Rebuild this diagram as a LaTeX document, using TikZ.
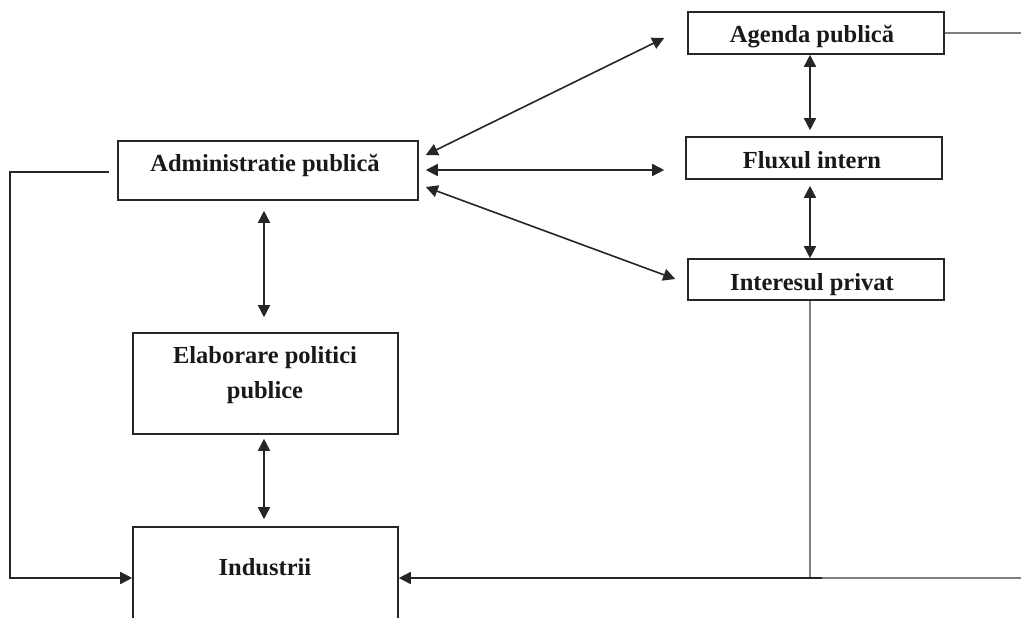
\documentclass[tikz,border=0pt]{standalone}
\usepackage{fontspec}
\setmainfont{Liberation Serif}
\usetikzlibrary{arrows.meta}
\tikzset{
  box/.style={draw=black!85, line width=1.6pt, rectangle, inner sep=0pt},
  lbl/.style={anchor=base, inner sep=0pt, font=\fontsize{24.5}{35}\selectfont\bfseries, text=black!90},
  link/.style={draw=black!85, line width=1.6pt},
  both/.style={link, {Triangle[length=12pt,width=12pt]}-{Triangle[length=12pt,width=12pt]}},
  tip/.style={link, -{Triangle[length=12pt,width=12pt]}},
  greyline/.style={draw=black!50, line width=2.6pt}
}
\begin{document}
\begin{tikzpicture}[x=1pt, y=-1pt]
\useasboundingbox (0,0) rectangle (1021,618);
\clip (0,0) rectangle (1021,618);

% boxes
\node[box, minimum width=256pt, minimum height=42pt] (agenda) at (816,33) {};
\node[box, minimum width=256pt, minimum height=42pt] (flux) at (814,158) {};
\node[box, minimum width=256pt, minimum height=41pt] (interes) at (816,279.5) {};
\node[box, minimum width=300pt, minimum height=59pt] (admin) at (268,170.5) {};
\node[box, minimum width=265pt, minimum height=101pt] (elab) at (265.5,383.5) {};
\node[box, minimum width=265pt, minimum height=132pt] (ind) at (265.5,593) {};

% texts
\node[lbl] (tagenda) at (812,43) {Agenda publică};
\node[lbl] (tflux) at (812,168) {Fluxul intern};
\node[lbl] (tinteres) at (812,290) {Interesul privat};
\node[lbl] (tadmin) at (265,171) {Administratie publică};
\node[lbl] (telab1) at (265,363) {Elaborare politici};
\node[lbl] (telab2) at (265,398) {publice};
\node[lbl] (tind) at (265,575) {Industrii};

% links between administration and the right column
\draw[both] ([shift={(7,-15.5)}]admin.east) -- ([shift={(-23,5)}]agenda.west);
\draw[both] ([shift={(7,-0.5)}]admin.east) -- ([shift={(-21,12)}]flux.west);
\draw[both] ([shift={(7,16.5)}]admin.east) -- ([shift={(-12,-0.5)}]interes.west);

% right column
\draw[both] ([shift={(-6,0)}]agenda.south) -- ([shift={(-4,-6)}]flux.north);
\draw[both] ([shift={(-4,6)}]flux.south) -- ([shift={(-6,0)}]interes.north);

% left column
\draw[both] ([shift={(-4,10)}]admin.south) -- ([shift={(-1.5,-15)}]elab.north);
\draw[both] ([shift={(-1.5,4)}]elab.south) -- ([shift={(-1.5,-7)}]ind.north);

% feedback from administration to industries
\coordinate (lstart) at ([shift={(-8,1.5)}]admin.west);
\draw[tip] (lstart) -- ++(-99,0) |- ([shift={(0,-15)}]ind.west);

% grey lines from the right column
\coordinate (jn) at ([xshift=-6]interes.south |- 0,578);
\coordinate (redge) at (1021,578);
\coordinate (aedge) at (1021,33);
\draw[greyline] (agenda.east) -- (aedge);
\draw[greyline] ([xshift=-6]interes.south) -- (jn);
\draw[greyline] ([xshift=12]jn) -- (redge);
\draw[tip] ([xshift=12]jn) -- ([shift={(0,-15)}]ind.east);
\end{tikzpicture}
\end{document}
